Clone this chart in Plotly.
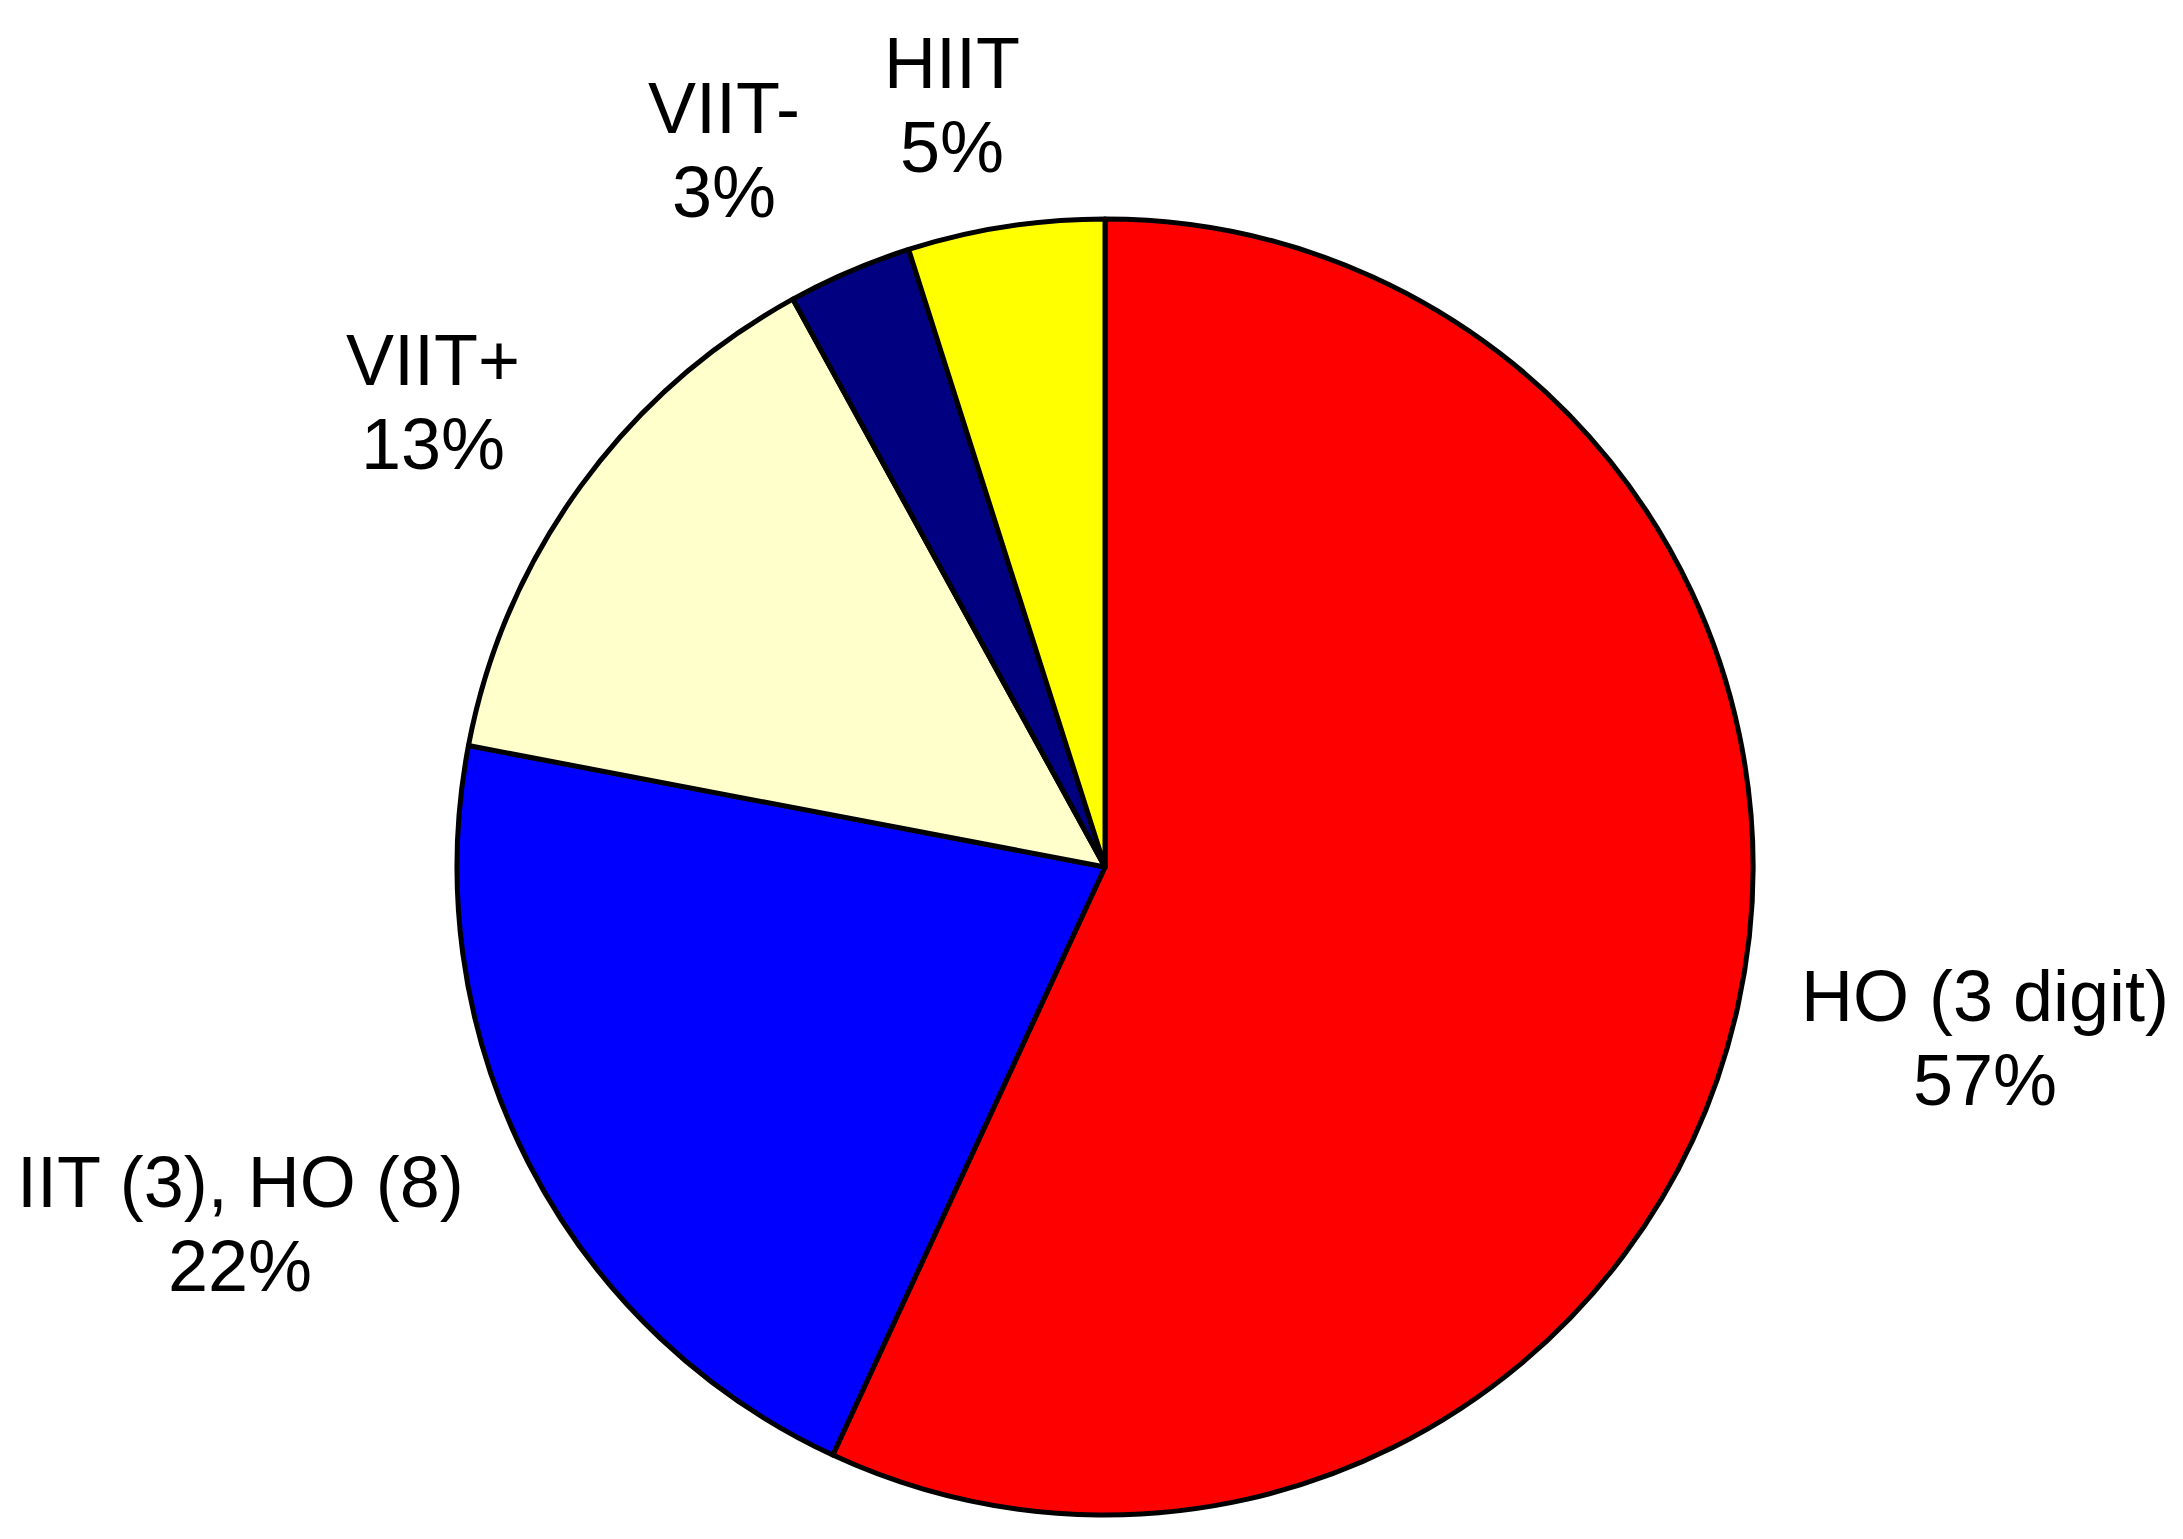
import plotly.graph_objects as go

# Data (slice shares; label texts as printed)
categories = ["HO (3 digit)", "IIT (3), HO (8)", "VIIT+", "VIIT-", "HIIT"]
values = [56.9, 21.1, 14.0, 3.1, 4.9]
pct_labels = ["57%", "22%", "13%", "3%", "5%"]
colors = ["#FF0000", "#0000FF", "#FFFFCC", "#000080", "#FFFF00"]

# Layout geometry (pixels)
W, H = 2183, 1539
cx, cy, r = 1097, 859, 648
# label positions: (x center, y center of first line) in pixels
label_pos = [(1977, 988), (232, 1174), (425, 352), (716, 100), (944, 55)]
line_gap = 84
font_size = 72

fig = go.Figure(go.Pie(
    labels=categories,
    values=values,
    sort=False,
    direction="clockwise",
    rotation=0,
    marker=dict(colors=colors, line=dict(color="black", width=5)),
    textinfo="none",
    hoverinfo="label+percent",
    showlegend=False,
    domain=dict(x=[(cx - r) / W, (cx + r) / W], y=[(H - cy - r) / H, (H - cy + r) / H]),
))

annotations = []
for cat, pct, (px, py) in zip(categories, pct_labels, label_pos):
    for i, line in enumerate([cat, pct]):
        annotations.append(dict(
            text=line, x=px / W, y=1 - (py + i * line_gap) / H,
            xref="paper", yref="paper", xanchor="center", yanchor="middle",
            showarrow=False,
            font=dict(family="Liberation Sans, Arial, sans-serif", size=font_size, color="black"),
        ))

fig.update_layout(
    width=W, height=H,
    margin=dict(l=0, r=0, t=0, b=0),
    paper_bgcolor="white", plot_bgcolor="white",
    annotations=annotations,
)

fig.write_html("out.html")
